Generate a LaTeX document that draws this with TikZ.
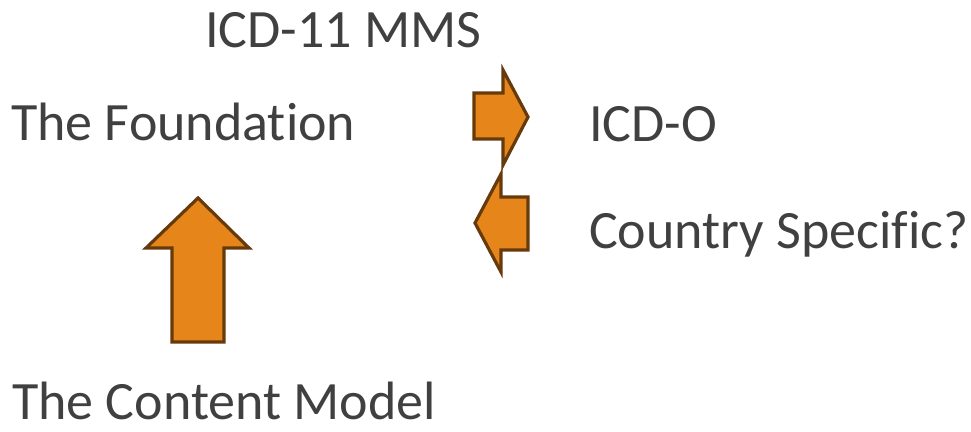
\documentclass[tikz,border=0pt]{standalone}
\usepackage{fontspec}
\setmainfont[Ligatures=NoCommon]{Carlito}
\definecolor{txtgray}{HTML}{404040}
\definecolor{arrowfill}{HTML}{E6861A}
\definecolor{arrowline}{HTML}{673A0C}
\begin{document}
\begin{tikzpicture}[x=1pt,y=-1pt,
  label/.style={anchor=base west,inner sep=0pt,text=txtgray,font=\fontsize{54}{60}\selectfont},
  blockarrow/.style={fill=arrowfill,draw=arrowline,line width=3.2pt,line join=miter}]
  \useasboundingbox (0,0) rectangle (971,431);

  % labels
  \node[label] (mms)     at (205,47)  {ICD-11 MMS};
  \node[label] (found)   at (11,140)  {The Foundation};
  \node[label] (icdo)    at (589,141) {ICD-O};
  \node[label] (country) at (589,248) {Country Specific?};
  \node[label] (content) at (12,419)  {The Content Model};

  % right-pointing arrow towards ICD-O
  \draw[blockarrow] (474,93) -- (503,93) -- (503,70) -- (528,117)
    -- (503,165) -- (503,139) -- (474,139) -- cycle;

  % left-pointing arrow from Country Specific?
  \draw[blockarrow] (528,197) -- (501,197) -- (501,174) -- (475,223)
    -- (501,272) -- (501,250) -- (528,250) -- cycle;

  % upward arrow from the content model to the foundation
  \draw[blockarrow] (172,342) -- (172,248) -- (146,248) -- (198,198)
    -- (249,248) -- (224,248) -- (224,342) -- cycle;
\end{tikzpicture}
\end{document}
